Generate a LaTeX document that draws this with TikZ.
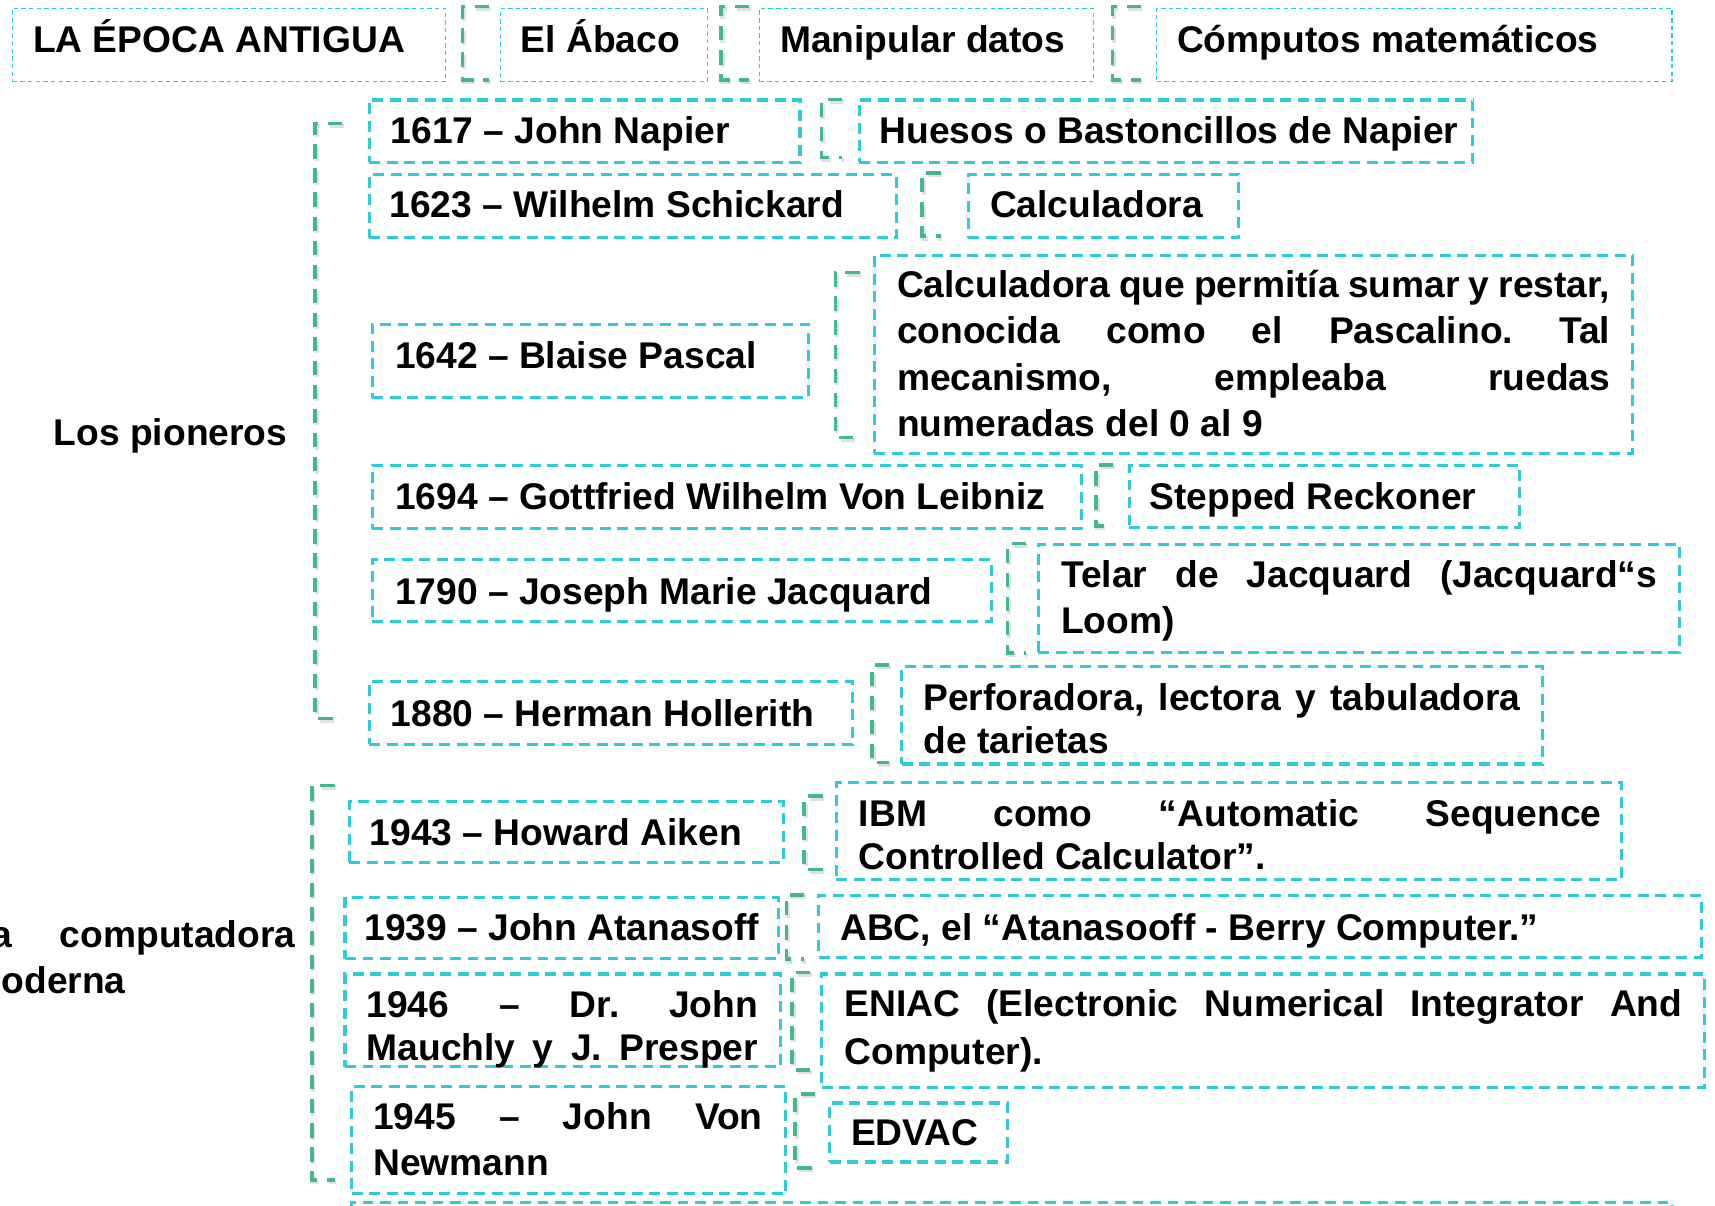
\documentclass[tikz,border=0pt]{standalone}
\usepackage{fontspec}
\setmainfont{Liberation Sans}
\frenchspacing
\definecolor{cy}{RGB}{43,205,219}
\definecolor{gr}{RGB}{67,183,146}
\newcommand\jl[1]{\makebox[\hsize][s]{#1}\par}
\newcommand\lastl[1]{\makebox[\hsize][l]{#1}\par}
\newcommand\pbox[3]{\vtop{\hsize=#1pt\baselineskip=#2pt\lineskiplimit=-100pt\lineskip=0pt\parindent=0pt\parskip=0pt #3}}
\newcommand\brk[4]{%
  \draw[brksh] (#2+1.5,#3+2) -- (#1+1.5,#3+2) -- (#1+1.5,#4+2) -- (#2+1.5,#4+2);
  \draw[brk] (#2,#3) -- (#1,#3) -- (#1,#4) -- (#2,#4);}
\begin{document}
\begin{tikzpicture}[x=1pt,y=-1pt,
  tbox/.style={draw=cy, line width=1.2pt, dash pattern=on 4pt off 3pt, inner sep=0pt, anchor=north west},
  cbox/.style={draw=cy, line width=2.9pt, dash pattern=on 10pt off 6pt, inner sep=0pt, anchor=north west},
  brk/.style={draw=gr, line width=3.3pt, dash pattern=on 13pt off 9pt},
  brksh/.style={draw=black!12, line width=3.9pt, dash pattern=on 13pt off 9pt},
  tx/.style={inner sep=0pt, anchor=base west, font=\bfseries\fontsize{34}{42}\selectfont\frenchspacing}]
\useasboundingbox (0,0) rectangle (1568,1102);
\clip (0,0) rectangle (1568,1102);
% top row
\node (bant) [tbox, minimum width=396, minimum height=67] at (11,7) {};
\node (baba) [tbox, minimum width=189, minimum height=67] at (457,7) {};
\node (bman) [tbox, minimum width=305, minimum height=67] at (694,7) {};
\node (bcom) [tbox, minimum width=471, minimum height=67] at (1057,7) {};
\node (tant) [tx] at (30,48) {LA ÉPOCA ANTIGUA};
\node (taba) [tx] at (476,48) {El Ábaco};
\node (tman) [tx] at (713,48) {Manipular datos};
\node (tcom) [tx] at (1076,48) {Cómputos matemáticos};
% boxes
\node (b1617) [cbox, minimum width=394, minimum height=57] at (336,90) {};
\node (bhue)  [cbox, minimum width=561, minimum height=57] at (784,90) {};
\node (b1623) [cbox, minimum width=482, minimum height=58] at (336,158) {};
\node (bcal)  [cbox, minimum width=247, minimum height=58] at (884,158) {};
\node (b1642) [cbox, minimum width=399, minimum height=67] at (339,295) {};
\node (bpas)  [cbox, minimum width=693, minimum height=181] at (798,232) {};
\node (b1694) [cbox, minimum width=648, minimum height=58] at (339,424) {};
\node (bste)  [cbox, minimum width=357, minimum height=57] at (1031,424) {};
\node (b1790) [cbox, minimum width=566, minimum height=57] at (339,510) {};
\node (btel)  [cbox, minimum width=586, minimum height=99] at (948,496) {};
\node (b1880) [cbox, minimum width=442, minimum height=57] at (336,622) {};
\node (bper)  [cbox, minimum width=586, minimum height=89] at (823,608) {};
\node (b1943) [cbox, minimum width=397, minimum height=56] at (318,731) {};
\node (bibm)  [cbox, minimum width=718, minimum height=89] at (763,714) {};
\node (b1939) [cbox, minimum width=396, minimum height=56] at (314,819) {};
\node (babc)  [cbox, minimum width=807, minimum height=57] at (747,817) {};
\node (b1946) [cbox, minimum width=398, minimum height=85] at (314,889) {};
\node (beni)  [cbox, minimum width=807, minimum height=104] at (750,889) {};
\node (b1945) [cbox, minimum width=397, minimum height=98] at (320,992) {};
\node (bedv)  [cbox, minimum width=163, minimum height=54] at (757,1007) {};
\node (bcut)  [cbox, minimum width=1208, minimum height=100] at (320,1098) {};
% texts
\node (t1617) [tx] at (357,131) {1617 – John Napier};
\node (thue)  [tx] at (804,131) {Huesos o Bastoncillos de Napier};
\node (t1623) [tx] at (356,199) {1623 – Wilhelm Schickard};
\node (tcal)  [tx] at (905,199) {Calculadora};
\node (t1642) [tx] at (361,337) {1642 – Blaise Pascal};
\node (tpas)  [tx] at (820,272) {\pbox{652}{42.3}{\jl{Calculadora que permitía sumar y restar,}\jl{conocida como el Pascalino. Tal}\jl{mecanismo, empleaba ruedas}\lastl{numeradas del 0 al 9}}};
\node (t1694) [tx] at (361,466) {1694 – Gottfried Wilhelm Von Leibniz};
\node (tste)  [tx] at (1051,466) {Stepped Reckoner};
\node (t1790) [tx] at (361,553) {1790 – Joseph Marie Jacquard};
\node (ttel)  [tx] at (970,537) {\pbox{545}{42}{\jl{Telar de Jacquard (Jacquard“s}\lastl{Loom)}}};
\node (t1880) [tx] at (357,664) {1880 – Herman Hollerith};
\node (tper)  [tx] at (844,650) {\pbox{546}{39}{\jl{Perforadora, lectora y tabuladora}\lastl{de tarietas}}};
\node (tpio)  [tx] at (49,407) {Los pioneros};
\node (tmod)  [tx] at (-29,866) {\pbox{299}{42}{\jl{La computadora}\lastl{moderna}}};
\node (t1943) [tx] at (338,773) {1943 – Howard Aiken};
\node (tibm)  [tx] at (785,756) {\pbox{679}{39}{\jl{IBM como “Automatic Sequence}\lastl{Controlled Calculator”.}}};
\node (t1939) [tx] at (333,860) {1939 – John Atanasoff};
\node (tabc)  [tx] at (768,860) {ABC, el “Atanasooff - Berry Computer.”};
\node (t1946) [tx] at (335,930) {\pbox{358}{40}{\jl{1946 – Dr. John}\jl{Mauchly y J. Presper}}};
\node (teni)  [tx] at (772,929) {\pbox{766}{44}{\jl{ENIAC (Electronic Numerical Integrator And}\lastl{Computer).}}};
\node (t1945) [tx] at (341,1033) {\pbox{356}{42}{\jl{1945 – John Von}\lastl{Newmann}}};
\node (tedv)  [tx] at (778,1047) {EDVAC};
% brackets
\brk{423}{447}{6}{73}
\brk{659}{685}{6}{73}
\brk{1017}{1043}{6}{73}
\brk{751}{770}{91}{144}
\brk{843}{860}{158}{216}
\brk{764}{786}{249}{400}
\brk{1002}{1018}{425}{481}
\brk{921}{938}{497}{597}
\brk{797}{813}{608}{697}
\brk{288}{313}{113}{657}
\brk{735}{752}{728}{795}
\brk{719}{735}{818}{877}
\brk{724}{741}{889}{978}
\brk{727}{745}{1000}{1068}
\brk{285}{306}{718}{1079}
\end{tikzpicture}
\end{document}
